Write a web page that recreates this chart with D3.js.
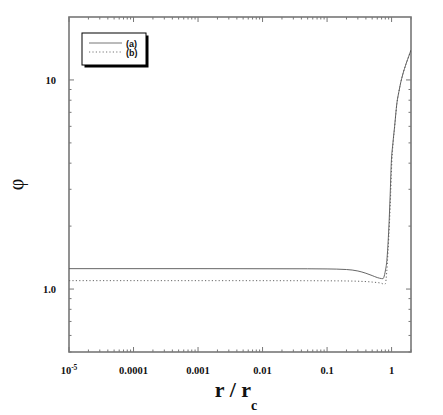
<!DOCTYPE html>
<html><head><meta charset="utf-8">
<script src="https://cdn.jsdelivr.net/npm/d3@7"></script>
<style>body{margin:0;background:#fff}</style>
</head><body>
<svg id="c" width="443" height="415"></svg>
<script>
const xTicks = [1e-5, 1e-4, 1e-3, 1e-2, 0.1, 1];
const xTickLabels = ["10-5", "0.0001", "0.001", "0.01", "0.1", "1"];
const yTicks = [1, 10];
const yTickLabels = ["1.0", "10"];
const seriesNames = ["(a)", "(b)"];
const rA   = [1e-5, 1e-3, 0.05, 0.1, 0.2, 0.3, 0.4, 0.5, 0.6, 0.7, 0.733, 0.76, 0.8, 0.845, 0.908, 0.95, 0.989, 1.05, 1.113, 1.208, 1.3, 1.378, 1.5, 1.687, 1.85, 2.0];
const phiA = [1.252, 1.252, 1.25, 1.248, 1.24, 1.22, 1.19, 1.16, 1.135, 1.122, 1.121, 1.14, 1.22, 1.373, 1.98, 2.8, 3.99, 5.0, 5.97, 7.73, 8.8, 9.64, 10.7, 12.0, 13.0, 13.9];
const rB   = [1e-5, 1e-3, 0.05, 0.1, 0.2, 0.3, 0.5, 0.7, 0.76, 0.8, 0.84, 0.88, 0.93, 0.97, 1.0, 1.05, 1.113, 1.208, 1.3, 1.378, 1.5, 1.687, 1.85, 2.0];
const phiB = [1.097, 1.097, 1.096, 1.095, 1.093, 1.09, 1.08, 1.065, 1.055, 1.06, 1.2, 1.5, 2.1, 2.9, 3.8, 4.9, 5.9, 7.7, 8.8, 9.64, 10.7, 12.0, 13.0, 13.9];

const svg = d3.select("#c");
const L = 69, R = 411, T = 17, B = 352;
const x = d3.scaleLog().domain([1e-5, 2]).range([L, R]);
const y = d3.scaleLog().domain([0.5, 20]).range([B, T]);
const frameCol = "#777";

const xMinor = [];
for (let e = -5; e <= 0; e++) for (let k = 2; k <= 9; k++) { const v = k * Math.pow(10, e); if (v <= 2) xMinor.push(v); }
const yMinor = [];
for (let e = -1; e <= 0; e++) for (let k = 2; k <= 9; k++) { const v = k * Math.pow(10, e); if (v >= 0.5 && v <= 20) yMinor.push(v); }

const g = svg.append("g");
function xAxis(sel, ticks, len) {
  sel.selectAll(null).data(ticks).enter().append("line")
    .attr("x1", d => x(d)).attr("x2", d => x(d)).attr("y1", B).attr("y2", B - len)
    .attr("stroke", frameCol).attr("stroke-width", 1);
  sel.selectAll(null).data(ticks).enter().append("line")
    .attr("x1", d => x(d)).attr("x2", d => x(d)).attr("y1", T).attr("y2", T + len)
    .attr("stroke", frameCol).attr("stroke-width", 1);
}
function yAxis(sel, ticks, len) {
  sel.selectAll(null).data(ticks).enter().append("line")
    .attr("y1", d => y(d)).attr("y2", d => y(d)).attr("x1", L).attr("x2", L + len)
    .attr("stroke", frameCol).attr("stroke-width", 1);
  sel.selectAll(null).data(ticks).enter().append("line")
    .attr("y1", d => y(d)).attr("y2", d => y(d)).attr("x1", R).attr("x2", R - len)
    .attr("stroke", frameCol).attr("stroke-width", 1);
}
xAxis(g, xTicks, 5); xAxis(g, xMinor.filter(v => !xTicks.includes(v)), 2.5);
yAxis(g, yTicks, 5); yAxis(g, yMinor, 2.5);

g.append("rect").attr("x", L).attr("y", T).attr("width", R - L).attr("height", B - T)
  .attr("fill", "none").attr("stroke", frameCol).attr("stroke-width", 1.6);

const tf = "'Liberation Serif','Times New Roman',serif";
xTicks.forEach((v, i) => {
  const t = svg.append("text").attr("x", x(v)).attr("y", 374).attr("text-anchor", "middle")
    .attr("font-family", tf).attr("font-weight", "bold").attr("font-size", 10.5).attr("fill", "#111");
  if (i === 0) {
    t.append("tspan").text("10");
    t.append("tspan").attr("dy", -4).attr("font-size", 7.5).text("-5");
  } else t.text(xTickLabels[i]);
});
yTicks.forEach((v, i) => {
  svg.append("text").attr("x", 56).attr("y", y(v) + 4).attr("text-anchor", "end")
    .attr("font-family", tf).attr("font-weight", "bold").attr("font-size", 10.5).attr("fill", "#111")
    .text(yTickLabels[i]);
});

const xt = svg.append("text").attr("x", 236).attr("y", 397).attr("text-anchor", "middle")
  .attr("font-family", tf).attr("font-weight", "bold").attr("font-size", 22).attr("fill", "#111");
xt.append("tspan").text("r / r");
xt.append("tspan").attr("dy", 13).attr("font-size", 14).text("c");

svg.append("text").attr("transform", `translate(23,${(T + B) / 2}) rotate(-90)`)
  .attr("text-anchor", "middle").attr("font-family", tf).attr("font-size", 20).attr("fill", "#111").text("φ");

const line = d3.line().x(d => x(d[0])).y(d => y(d[1])).curve(d3.curveMonotoneX);
const dA = rA.map((r, i) => [r, phiA[i]]);
const dB = rB.map((r, i) => [r, phiB[i]]);
svg.append("clipPath").attr("id", "cp").append("rect").attr("x", L).attr("y", T).attr("width", R - L).attr("height", B - T);
svg.append("path").attr("d", line(dB)).attr("fill", "none").attr("stroke", "#666").attr("stroke-width", 1).attr("stroke-dasharray", "1.2,2.2").attr("clip-path", "url(#cp)");
svg.append("path").attr("d", line(dA)).attr("fill", "none").attr("stroke", "#555").attr("stroke-width", 0.9).attr("clip-path", "url(#cp)");

const lx = 82, ly = 33, lw = 64, lh = 32;
svg.append("rect").attr("x", lx + 2.5).attr("y", ly + 2.5).attr("width", lw).attr("height", lh).attr("fill", "#000");
svg.append("rect").attr("x", lx).attr("y", ly).attr("width", lw).attr("height", lh).attr("fill", "#fff").attr("stroke", "#000").attr("stroke-width", 1);
seriesNames.forEach((n, i) => {
  const yy = ly + 10 + i * 9;
  svg.append("line").attr("x1", 89).attr("x2", 122).attr("y1", yy).attr("y2", yy)
    .attr("stroke", "#666").attr("stroke-width", 0.9).attr("stroke-dasharray", i ? "1.2,2.2" : null);
  svg.append("text").attr("x", 126).attr("y", yy + 3.5).attr("font-family", "'Liberation Sans',Arial,sans-serif")
    .attr("font-weight", "bold").attr("font-size", 9).attr("fill", "#111").text(n);
});
</script>
</body></html>
